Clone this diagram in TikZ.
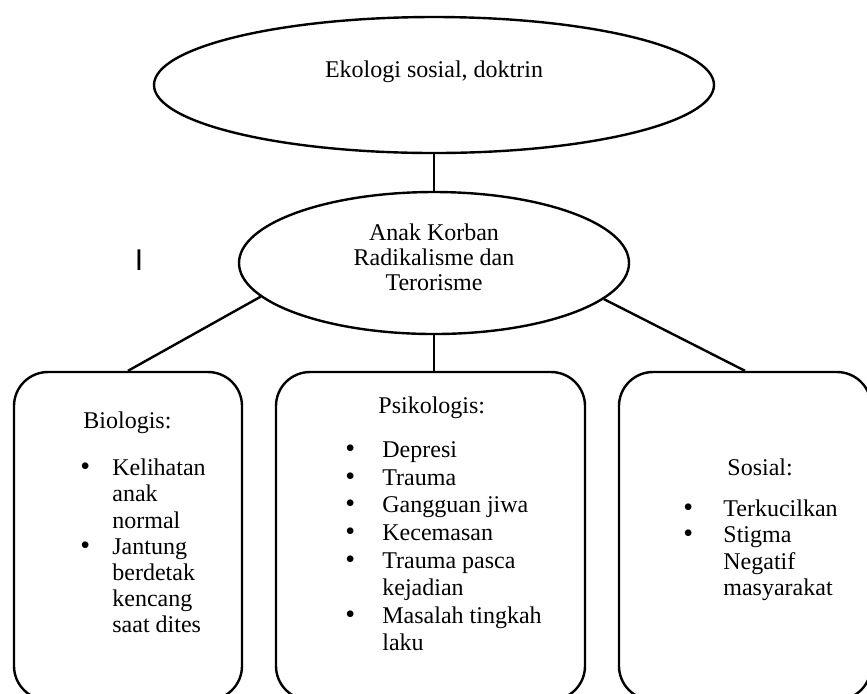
\documentclass[tikz,border=0pt]{standalone}
\usepackage{fontspec}
\setmainfont{Liberation Serif}
\setsansfont{Liberation Sans}
\usetikzlibrary{shapes.geometric}

\newcommand{\daftar}[2]{\begin{tabular}{@{}p{#1}@{}l@{}}#2\end{tabular}}
\newcommand{\titik}{{\fontsize{14}{12}\selectfont\textbullet}}

\begin{document}
\begin{tikzpicture}[x=0.5pt,y=-0.5pt,
    every node/.append style={font=\fontsize{12}{12.6}\selectfont},
    garis/.style={line width=1.2pt},
    oval/.style={draw,ellipse,line width=1.2pt,align=center,inner sep=0pt},
    kotak/.style={draw,rounded corners=17pt,line width=1.2pt,minimum height=164pt},
    judul/.style={anchor=west,inner sep=0pt},
    isi/.style={anchor=north west,inner sep=0pt}]
    \path[use as bounding box,clip] (0,0) rectangle (867,693);
    \node[oval,minimum width=280pt,minimum height=68pt] (eko) at (434,85) {Ekologi sosial, doktrin\\[3pt]\mbox{}};
    \node[oval,minimum width=195pt,minimum height=71pt] (anak) at (434,263) {Anak Korban\\Radikalisme dan\\Terorisme\\[-7pt]\mbox{}};
    \node[inner sep=0pt,font=\fontsize{15}{15}\sffamily] (kursor) at (139,260) {I};
    \node[kotak,minimum width=114pt] (bio) at (128,536) {};
    \node[kotak,minimum width=154.5pt] (psi) at (430.5,536) {};
    \node[kotak,minimum width=126pt] (sos) at (745,536) {};
    \draw[garis] (eko.south) -- (anak.north);
    \draw[garis] (anak.191) -- (bio.north);
    \draw[garis] (anak.south) -- (anak.south |- psi.north);
    \draw[garis] (anak.348) -- (sos.north);
    % isi kotak
    \node[judul] (bio-judul) at (83,423) {Biologis:};
    \node[isi,font=\fontsize{12}{13.1}\selectfont] (bio-isi) at (80,457) {\daftar{16pt}{\titik & Kelihatan\\ & anak\\ & normal\\ \titik & Jantung\\ & berdetak\\ & kencang\\ & saat dites}};
    \node[judul] (psi-judul) at (378,408) {Psikologis:};
    \node[isi,font=\fontsize{12}{13.8}\selectfont] (psi-isi) at (345,438) {\daftar{18.5pt}{\titik & Depresi\\ \titik & Trauma\\ \titik & Gangguan jiwa\\ \titik & Kecemasan\\ \titik & Trauma pasca\\ & kejadian\\ \titik & Masalah tingkah\\ & laku}};
    \node[judul] (sos-judul) at (727,467) {Sosial:};
    \node[isi,font=\fontsize{12}{13.3}\selectfont] (sos-isi) at (683,497) {\daftar{20pt}{\titik & Terkucilkan\\ \titik & Stigma\\ & Negatif\\ & masyarakat}};
\end{tikzpicture}
\end{document}
